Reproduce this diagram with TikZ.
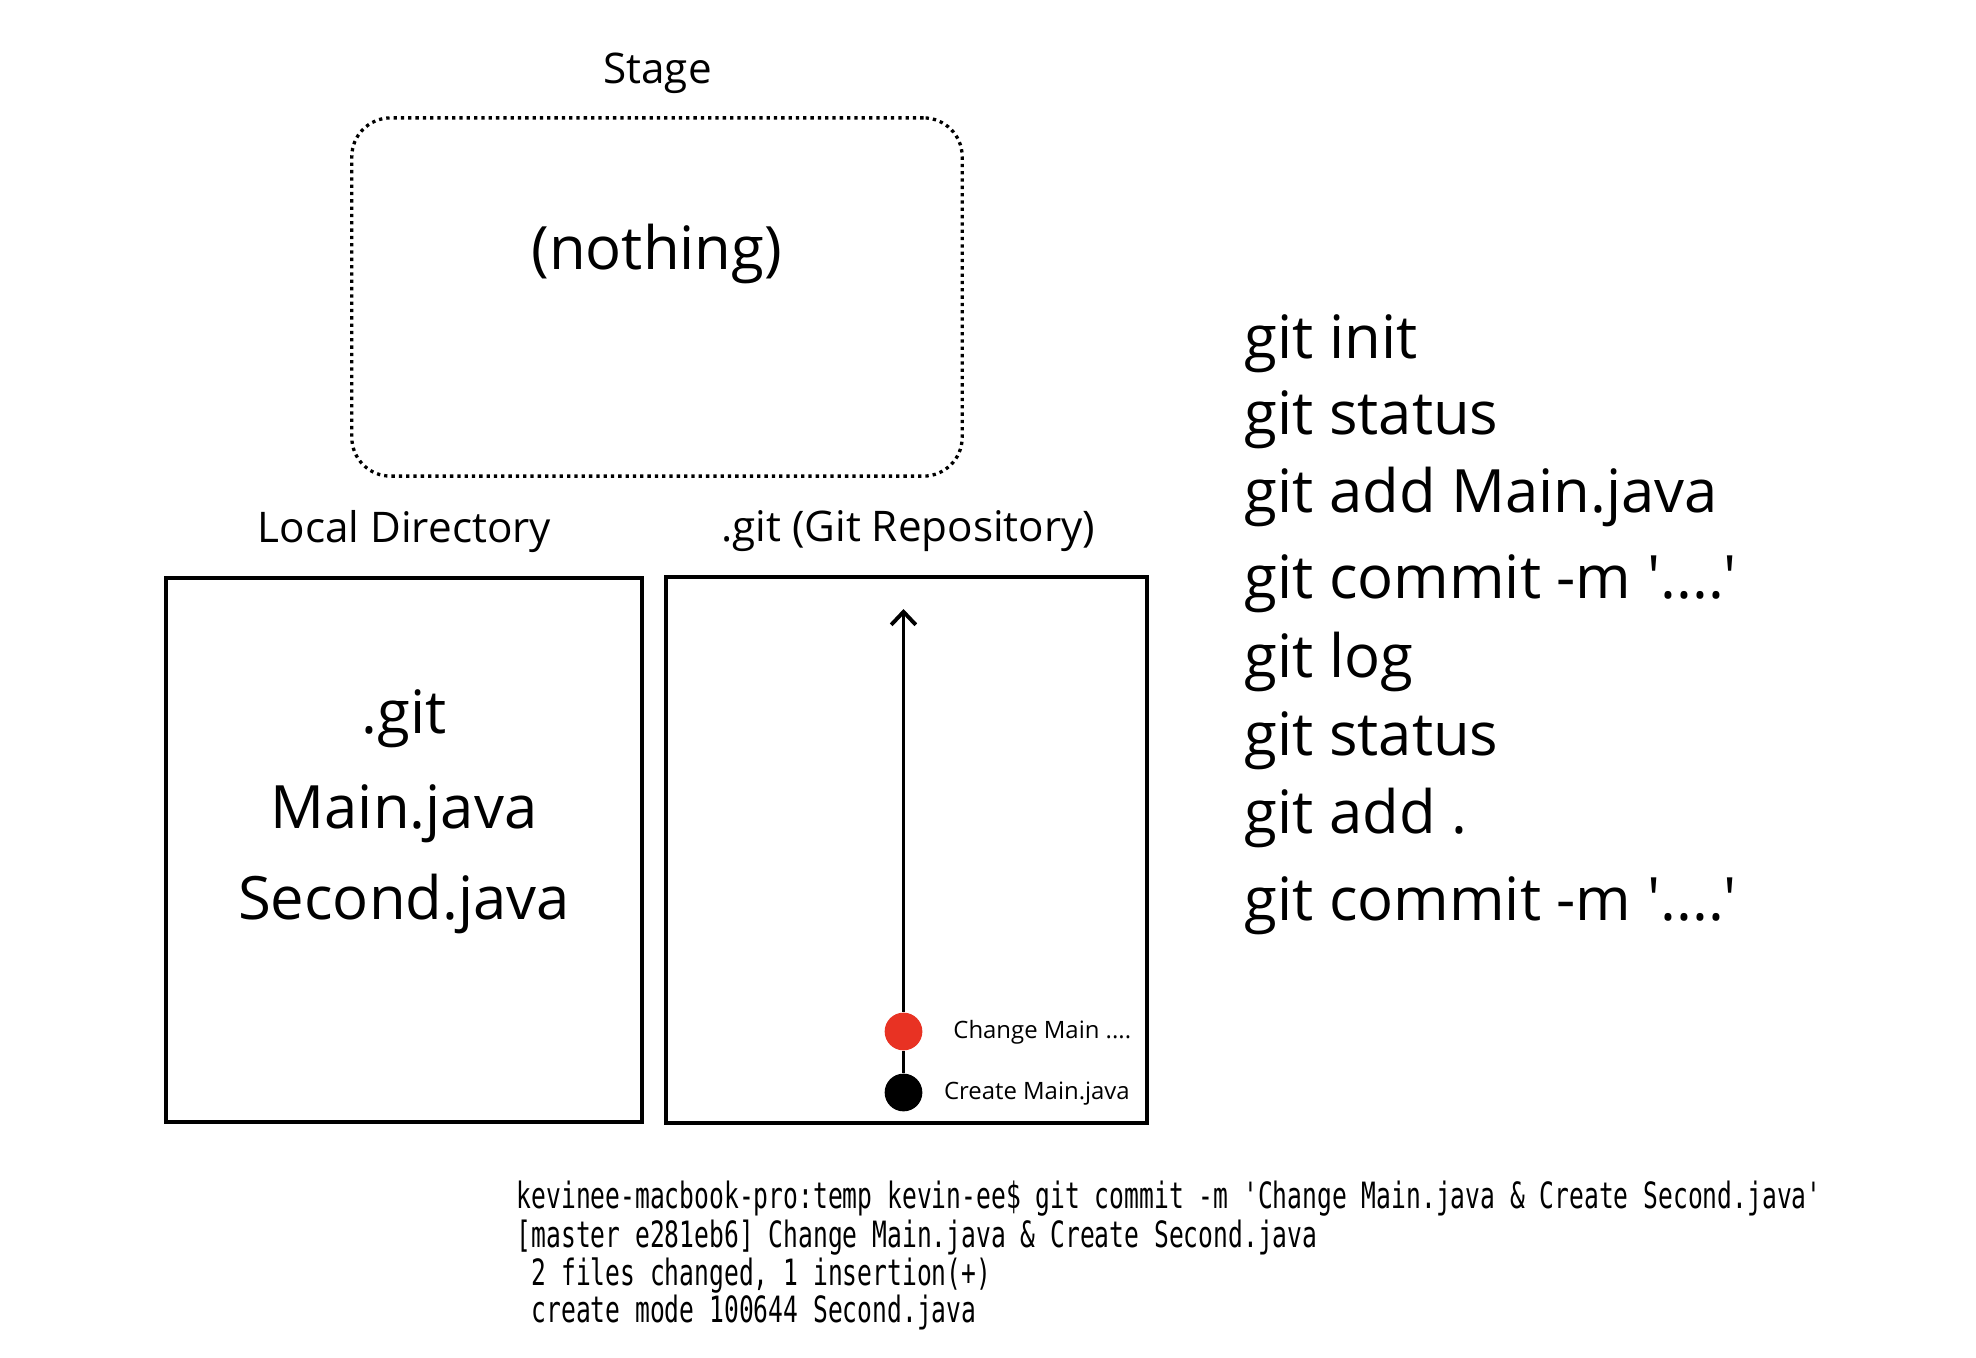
\documentclass[tikz,border=0pt]{standalone}
\usepackage{fontspec}
\setmainfont{Open Sans}
\newfontfamily\termfont[FakeStretch=0.68]{DejaVu Sans Mono}
\usetikzlibrary{positioning,arrows.meta}
\definecolor{commitred}{HTML}{E83223}

\begin{document}
\begin{tikzpicture}[
		x=0.01cm, y=-0.01cm,
		>={Straight Barb[length=3.7pt, width=7pt]},
		every text node part/.style={align=center},
		box/.style={draw, line width=1.1pt, inner sep=0pt},
		stagebox/.style={draw, line width=0.94pt, dash pattern=on 0.94pt off 1.14pt,
			rounded corners=11pt, inner sep=0pt,
			minimum width=6.1cm, minimum height=3.58cm},
		big/.style={font=\fontsize{17}{20}\selectfont, inner sep=0pt, anchor=base},
		title/.style={font=\fontsize{12}{14}\selectfont, inner sep=0pt, anchor=base},
		cmd/.style={big, anchor=base west},
		commit/.style={circle, inner sep=0pt, minimum size=0.377cm},
		msg/.style={font=\fontsize{6.8}{8}\selectfont, anchor=west, inner sep=0pt},
		term/.style={font=\termfont\fontsize{10.3}{12}\selectfont, align=left,
			anchor=base west, inner sep=0pt}
	]
	\useasboundingbox (0,0) rectangle (1976,1358);
	
	% stage
	\node(stage)[stagebox] at (657,297) {};
	\node(stagetitle)[title] at (657.5,83.3) {Stage};
	\node(nothing)[big] at (656.7,270) {(nothing)};
	
	% local directory
	\node(local)[box, minimum width=4.76cm, minimum height=5.44cm] at (404,850) {};
	\node(localtitle)[title] at (404.5,542) {Local Directory};
	\node(dotgit)[big] at (404,733) {.git};
	\node(mainjava)[big] at (404,828) {Main.java};
	\node(secondjava)[big] at (404,919) {Second.java};
	
	% repository
	\node(repo)[box, minimum width=4.81cm, minimum height=5.455cm] at (906.5,850.3) {};
	\node(repotitle)[title] at (908.3,541.7) {.git (Git Repository)};
	\node(first)[commit, fill=black] at (903.5,1092.5) {};
	\node(second)[commit, fill=commitred] at (903.5,1031.5) {};
	\coordinate(head) at (903.5,609);
	\draw[line width=1.1pt] (first) -- (second);
	\draw[->, line width=1.1pt] (second) -- (head);
	\node(firstmsg)[msg] at (943.3,1094) {Create Main.java};
	\node(secondmsg)[msg] at (952.7,1032) {Change Main ....};
	
	% commands
	\node(init)[cmd] at (1244,358.3) {git init};
	\node(status)[cmd] at (1244,435) {git status};
	\node(addmain)[cmd] at (1244,512.7) {git add Main.java};
	\node(commit)[cmd] at (1244,598.3) {git commit -m \textquotesingle....\textquotesingle};
	\node(log)[cmd] at (1244,677.3) {git log};
	\node(statustwo)[cmd] at (1244,755) {git status};
	\node(addall)[cmd] at (1244,833.3) {git add .};
	\node(committwo)[cmd] at (1244,920) {git commit -m \textquotesingle....\textquotesingle};
	
	% terminal output
	\node(prompt)[term] at (516,1208) {kevinee-macbook-pro:temp kevin-ee\$ git commit -m 'Change Main.java \& Create Second.java'};
	\node(result)[term] at (516,1247) {[master e281eb6] Change Main.java \& Create Second.java};
	\node(changed)[term] at (516,1285) {\ 2 files changed, 1 insertion(+)};
	\node(created)[term] at (516,1322) {\ create mode 100644 Second.java};
	
\end{tikzpicture}
\end{document}
